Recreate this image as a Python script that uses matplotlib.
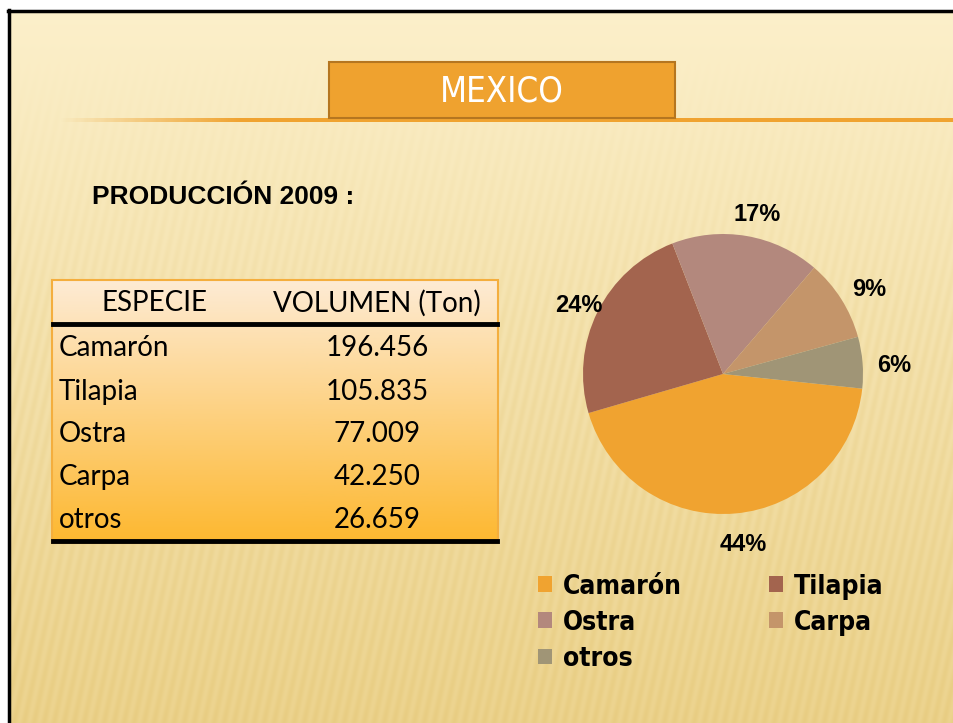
import numpy as np
import matplotlib.pyplot as plt
from matplotlib.patches import Rectangle

# datos
especies = ["Camarón", "Tilapia", "Ostra", "Carpa", "otros"]
volumen = [196456, 105835, 77009, 42250, 26659]
volumen_txt = ["196.456", "105.835", "77.009", "42.250", "26.659"]
colores = ["#F0A330", "#A3644E", "#B3887D", "#C4956A", "#A09576"]

W, H = 954, 723
fig = plt.figure(figsize=(W / 100, H / 100), dpi=100)

# fondo de la diapositiva
bg = fig.add_axes([0, 0, 1, 1])
bg.set_xlim(0, W)
bg.set_ylim(H, 0)
bg.axis("off")

yy, xx = np.mgrid[0:H, 0:W]
t = yy / H
top = np.array([252, 240, 203]) / 255
bot = np.array([236, 211, 142]) / 255
img = top[None, None, :] * (1 - t[..., None]) + bot[None, None, :] * t[..., None]
rayas = np.sin((xx + 0.22 * yy) * 2 * np.pi / 10.0)
amp = np.clip((yy - 40) / 300, 0, 1) * 0.045
img = img - (amp * (rayas + 1) / 2)[..., None] * np.array([0.3, 0.5, 1.0])
img = np.clip(img, 0, 1)
img[:10, :, :] = 1
img[:, :8, :] = 1
bg.imshow(img, extent=(0, W, H, 0), aspect="auto", zorder=0)

# borde negro
bg.plot([9.5, 9.5], [10, H], color="black", lw=2.5, zorder=2)
bg.plot([8, W], [11, 11], color="black", lw=2.5, zorder=2)

# linea naranja bajo el titulo
linea = np.zeros((1, W, 4))
linea[..., :3] = np.array([240, 163, 48]) / 255
linea[0, :, 3] = np.clip((np.arange(W) - 60) / 180, 0, 1)
bg.imshow(linea, extent=(0, W, 122, 118), aspect="auto", zorder=2)

# caja del titulo
bg.add_patch(Rectangle((329, 62), 346, 56, facecolor="#EFA22F",
                       edgecolor="#B57620", lw=1.5, zorder=3))
bg.text(502, 92, "MEXICO", color="white", fontsize=25, ha="center", va="center",
        family="DejaVu Sans", fontstretch="condensed", zorder=4)

bg.text(92, 197, "PRODUCCIÓN 2009 :", fontsize=19, fontweight="bold",
        ha="left", va="center", family=["Liberation Sans", "DejaVu Sans"])

# tabla con degradado
grad = np.zeros((100, 1, 3))
c1 = np.array([253, 235, 212]) / 255
c2 = np.array([253, 184, 48]) / 255
s = np.linspace(0, 1, 100)[:, None]
grad[:, 0, :] = c1 * (1 - s) + c2 * s
bg.imshow(grad, extent=(52, 498, 543, 280), aspect="auto", zorder=3)
bg.add_patch(Rectangle((52, 280), 446, 263, facecolor="none",
                       edgecolor="#F4AE3E", lw=1.5, zorder=4))
bg.plot([53, 497], [324, 324], color="black", lw=3.5, zorder=5)
bg.plot([53, 497], [541, 541], color="black", lw=3.5, zorder=5)

fuente_tabla = ["Lato", "DejaVu Sans"]
bg.text(155, 303, "ESPECIE", fontsize=20, ha="center", va="center",
        family=fuente_tabla, zorder=6)
bg.text(377, 303, "VOLUMEN (Ton)", fontsize=20, ha="center", va="center",
        family=fuente_tabla, zorder=6)
filas_y = [348, 392, 434, 477, 520]
for esp, vol, y in zip(especies, volumen_txt, filas_y):
    bg.text(59, y, esp, fontsize=20, ha="left", va="center",
            family=fuente_tabla, zorder=6)
    bg.text(377, y, vol, fontsize=20, ha="center", va="center",
            family=fuente_tabla, zorder=6)

# pastel
cx, cy, r = 723, 374, 140
ax = fig.add_axes([(cx - r) / W, (H - cy - r) / H, 2 * r / W, 2 * r / H])
wedges, textos, pcts = ax.pie(volumen, colors=colores, startangle=-6,
                              counterclock=False, autopct="%1.0f%%",
                              pctdistance=1.19, radius=1,
                              textprops=dict(fontsize=17, fontweight="bold",
                                             family=["Liberation Sans", "DejaVu Sans"]))
ax.set_xlim(-1, 1)
ax.set_ylim(-1, 1)
ax.set_aspect("equal")
for p in pcts:
    p.set_clip_on(False)
    x, y = p.get_position()
    p.set_position((x + 0.04, y - 0.035))

orden = [0, 2, 4, 1, 3]
leg = fig.legend([wedges[i] for i in orden], [especies[i] for i in orden],
                 ncol=2, loc="upper left", bbox_to_anchor=(514 / W, 1 - 550 / H),
                 frameon=False, handlelength=0.55, handleheight=0.55,
                 handletextpad=0.4, columnspacing=3.3, labelspacing=0.38,
                 prop=dict(family="DejaVu Sans", stretch="condensed",
                           weight="bold", size=19))

fig.savefig("out.png", dpi=100)
